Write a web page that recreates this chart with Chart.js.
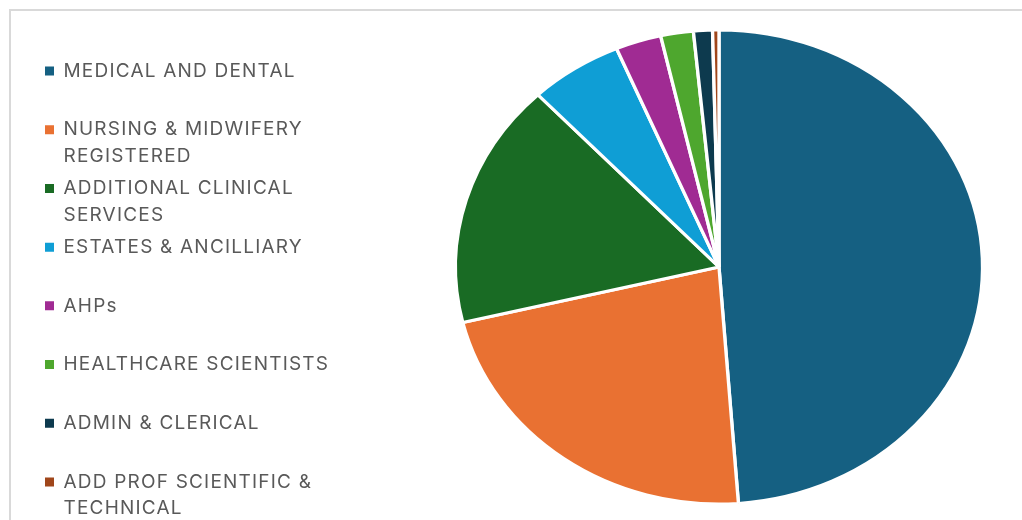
<!DOCTYPE html>
<html>
<head>
<meta charset="utf-8">
<script src="https://cdn.jsdelivr.net/npm/chart.js@4.4.1/dist/chart.umd.min.js"></script>
<style>
  html, body { margin: 0; padding: 0; background: #fff; }
  #wrap { position: absolute; left: 0; top: 0; width: 1022px; height: 520px; overflow: hidden; }
  #frame { position: absolute; left: 9px; top: 9px; width: 1100px; height: 600px; border: 2px solid #d9d9d9; }
  #staff-chart { position: absolute; left: 0; top: 0; }
</style>
</head>
<body>
<div id="wrap">
  <div id="frame"></div>
  <canvas id="staff-chart" width="1400" height="540"></canvas>
</div>
<script>
  // Staff groups (legend lines) and their share of the total
  const categories = [
    ["MEDICAL AND DENTAL"],
    ["NURSING & MIDWIFERY", "REGISTERED"],
    ["ADDITIONAL CLINICAL", "SERVICES"],
    ["ESTATES & ANCILLIARY"],
    ["AHPs"],
    ["HEALTHCARE SCIENTISTS"],
    ["ADMIN & CLERICAL"],
    ["ADD PROF SCIENTIFIC &", "TECHNICAL"],
  ];
  const shares = [48.8, 22.4, 16.7, 5.7, 2.8, 2.0, 1.16, 0.39];
  const colours = ["#156082", "#E97132", "#196B24", "#0F9ED5", "#A02B93", "#4EA72E", "#0D3A4E", "#A0461A"];

  // the pie in the original is a bit wider than tall
  const stretchPie = {
    id: "stretchPie",
    beforeDatasetsDraw(chart) {
      const arc = chart.getDatasetMeta(0).data[0];
      if (!arc) return;
      const ctx = chart.ctx;
      ctx.save();
      ctx.translate(arc.x, arc.y);
      ctx.scale(1.112, 1);
      ctx.translate(-arc.x, -arc.y);
    },
    afterDatasetsDraw(chart) {
      chart.ctx.restore();
    },
  };

  // wider letter spacing for the legend text
  const spacing = {
    id: "spacing",
    beforeUpdate(chart) {
      chart.ctx.letterSpacing = "1.2px";
    },
    beforeDraw(chart) {
      chart.ctx.letterSpacing = "1.2px";
    },
  };

  new Chart(document.getElementById("staff-chart"), {
    type: "pie",
    data: {
      labels: categories,
      datasets: [
        {
          data: shares,
          backgroundColor: colours,
          borderColor: "#ffffff",
          borderWidth: 3,
          radius: 237,
          clip: false,
        },
      ],
    },
    options: {
      responsive: false,
      animation: false,
      layout: {
        padding: { left: 39.5, right: 1.5, top: 1.45, bottom: 7.4 },
      },
      plugins: {
        tooltip: { enabled: false },
        legend: {
          position: "chartArea",
          align: "end",
          labels: {
            boxWidth: 9,
            boxHeight: 9,
            padding: 5.5,
            color: "#595959",
            font: { family: "Inter", size: 19, lineHeight: 1.4 },
            generateLabels(chart) {
              return chart.data.labels.map((lines, i) => ({
                // every entry takes two lines so the rows are evenly spaced
                text: lines.length > 1 ? lines : [lines[0], ""],
                fillStyle: colours[i],
                strokeStyle: colours[i],
                lineWidth: 0,
                fontColor: "#595959",
                hidden: false,
                index: i,
              }));
            },
          },
        },
      },
    },
    plugins: [stretchPie, spacing],
  });
</script>
</body>
</html>
